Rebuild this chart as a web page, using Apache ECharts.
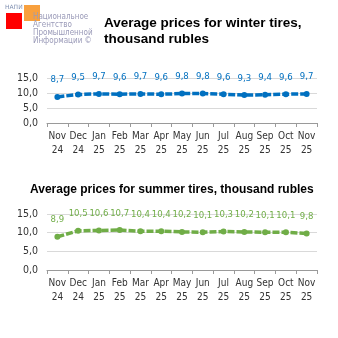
<!DOCTYPE html>
<html><head><meta charset="utf-8">
<script src="https://cdn.jsdelivr.net/npm/echarts@6/dist/echarts.min.js"></script>
<style>html,body{margin:0;padding:0;background:#fff}#c{width:338px;height:338px}</style>
</head><body><div id="c"></div>
<script>
const categories = ['Nov\n24','Dec\n24','Jan\n25','Feb\n25','Mar\n25','Apr\n25','May\n25','Jun\n25','Jul\n25','Aug\n25','Sep\n25','Oct\n25','Nov\n25'];
const winterPrices = [8.7,9.5,9.7,9.6,9.7,9.6,9.8,9.8,9.6,9.3,9.4,9.6,9.7];
const summerPrices = [8.9,10.5,10.6,10.7,10.4,10.4,10.2,10.1,10.3,10.2,10.1,10.1,9.8];
const yTicks = [0,5,10,15];

const FONT = '"Liberation Sans Narrow", "DejaVu Sans Condensed", sans-serif';
const chart = echarts.init(document.getElementById('c'), null, {renderer:'canvas'});
function fmt(v){ return v.toFixed(1).replace('.', ','); }
function xAxis(gi){
  return {type:'category', gridIndex:gi, data:categories, boundaryGap:true,
    axisLine:{lineStyle:{color:'#9a9a9a'}},
    axisTick:{show:true, length:4, lineStyle:{color:'#9a9a9a'}},
    axisLabel:{color:'#333', fontFamily:FONT, fontSize:10, lineHeight:14, margin:6, interval:0}};
}
function yAxis(gi){
  return {type:'value', gridIndex:gi, min:yTicks[0], max:yTicks[yTicks.length-1], interval:5,
    axisLine:{show:false}, axisTick:{show:false},
    splitLine:{lineStyle:{color:'#d9d9d9'}},
    axisLabel:{color:'#333', fontFamily:FONT, fontSize:10.5, margin:9, formatter:v=>fmt(v)}};
}
function series(gi, data, color){
  return {type:'line', xAxisIndex:gi, yAxisIndex:gi, data:data,
    symbol:'circle', symbolSize:6, itemStyle:{color:color},
    lineStyle:{color:color, width:3.5, type:[7,2]},
    label:{show:true, position:'top', distance:9, color:color, fontFamily:FONT, fontSize:9.5, formatter:p=>fmt(p.value)},
    animation:false};
}
chart.setOption({
  animation:false,
  title:[
    {text:'Average prices for winter tires,\nthousand rubles', left:104, top:15, padding:0,
     textStyle:{fontFamily:'Liberation Sans', fontWeight:'bold', fontSize:13.5, lineHeight:16, color:'#000'}},
    {text:'Average prices for summer tires, thousand rubles', left:30, top:184, padding:0,
     textStyle:{fontFamily:'Liberation Sans', fontWeight:'bold', fontSize:12, color:'#000'}}
  ],
  grid:[
    {left:47, right:21, top:78, height:45},
    {left:47, right:21, top:214, height:56}
  ],
  xAxis:[xAxis(0), xAxis(1)],
  yAxis:[yAxis(0), yAxis(1)],
  series:[series(0, winterPrices, '#0070C0'), series(1, summerPrices, '#70AD47')],
  graphic:[
    {type:'rect', shape:{x:6,y:13,width:16,height:16}, style:{fill:'#ff0000'}},
    {type:'rect', shape:{x:24,y:5,width:16,height:16}, style:{fill:'rgba(247,150,40,0.9)'}},
    {type:'text', left:5, top:4, style:{text:'НАПИ', fontSize:6, fill:'#7f8fb0', fontFamily:'DejaVu Sans'}},
    {type:'text', left:33, top:13, style:{text:'Национальное\nАгентство\nПромышленной\nИнформации ©', fontSize:8, lineHeight:8, fill:'#9a9ab8', fontFamily:'"Liberation Sans Narrow", "DejaVu Sans Condensed"'}}
  ]
});
</script></body></html>
